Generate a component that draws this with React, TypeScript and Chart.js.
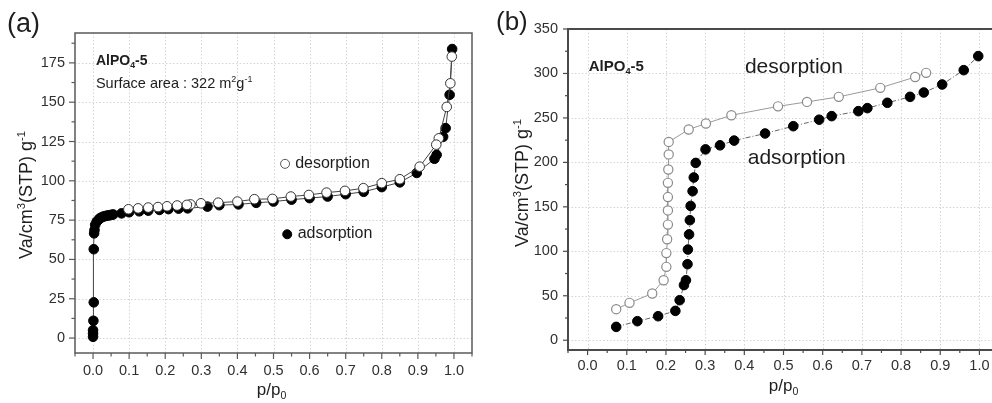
import React, { useEffect, useRef } from 'react';
import { Chart, registerables } from 'chart.js';

Chart.register(...registerables);

// ---------- Panel (a) data ----------
const A_ADS_P = [0.0, 0.0, 0.0, 0.001, 0.002, 0.002, 0.003, 0.004, 0.006, 0.01, 0.015, 0.019, 0.024, 0.029, 0.034, 0.038, 0.043, 0.047, 0.052, 0.056, 0.079, 0.1, 0.128, 0.153, 0.184, 0.209, 0.237, 0.262, 0.317, 0.35, 0.403, 0.452, 0.5, 0.55, 0.6, 0.65, 0.7, 0.75, 0.8, 0.85, 0.897, 0.946, 0.952, 0.97, 0.977, 0.988, 0.995];
const A_ADS_V = [0.8, 3, 5, 11, 22.7, 56.5, 66.6, 68.7, 72, 74, 75.2, 76.2, 76.8, 77.3, 77.6, 77.8, 78, 78.2, 78.4, 78.6, 79.3, 80, 80.6, 81, 81.5, 82, 82.3, 82.5, 83.6, 84.5, 85, 86, 86.8, 88, 89, 90, 91.5, 93, 96, 99, 105, 114, 116.5, 128, 133.5, 154.7, 183.8];
const A_DES_P = [0.994, 0.99, 0.98, 0.958, 0.951, 0.905, 0.85, 0.8, 0.749, 0.698, 0.647, 0.598, 0.548, 0.497, 0.447, 0.4, 0.347, 0.299, 0.27, 0.26, 0.233, 0.205, 0.18, 0.153, 0.125, 0.098];
const A_DES_V = [179, 162, 147, 127, 123, 109, 101, 98.5, 95.3, 93.6, 92.5, 91, 90, 88.5, 88.3, 86.8, 86.1, 85.7, 85, 84.7, 84.3, 83.8, 83.3, 83, 82.5, 81.9];
const A_X_TICKS = [0.0, 0.1, 0.2, 0.3, 0.4, 0.5, 0.6, 0.7, 0.8, 0.9, 1.0];
const A_Y_TICKS = [0, 25, 50, 75, 100, 125, 150, 175];

// ---------- Panel (b) data ----------
const B_ADS_P = [0.073, 0.127, 0.18, 0.224, 0.235, 0.246, 0.251, 0.255, 0.256, 0.259, 0.261, 0.263, 0.268, 0.271, 0.276, 0.301, 0.338, 0.374, 0.453, 0.525, 0.591, 0.623, 0.691, 0.714, 0.765, 0.823, 0.858, 0.905, 0.96, 0.997];
const B_ADS_V = [15, 21.4, 27, 33, 45, 62, 67.5, 85.5, 102, 119, 135, 151, 167.6, 183, 199.4, 214.6, 219.2, 224.5, 232.5, 240.7, 248, 252, 257.6, 261, 267, 273.7, 278.6, 287.6, 303.7, 319.5];
const B_DES_P = [0.864, 0.836, 0.747, 0.641, 0.56, 0.486, 0.367, 0.302, 0.258, 0.207, 0.207, 0.206, 0.205, 0.205, 0.205, 0.205, 0.203, 0.201, 0.201, 0.194, 0.165, 0.107, 0.073];
const B_DES_V = [300.7, 296, 283.8, 273.7, 268, 263, 253, 243.7, 237, 223, 209, 192, 177, 161, 146, 130, 113.6, 98, 82.5, 67.5, 52.5, 42, 34.9];
const B_X_TICKS = [0.0, 0.1, 0.2, 0.3, 0.4, 0.5, 0.6, 0.7, 0.8, 0.9, 1.0];
const B_Y_TICKS = [0, 50, 100, 150, 200, 250, 300, 350];

// ---------- Texts ----------
type Seg = { t: string; k?: 'sub' | 'sup' };
const SAMPLE_NAME: Seg[] = [{ t: 'AlPO' }, { t: '4', k: 'sub' }, { t: '-5' }];
const SURFACE_AREA: Seg[] = [{ t: 'Surface area : 322 m' }, { t: '2', k: 'sup' }, { t: 'g' }, { t: '-1', k: 'sup' }];
const Y_TITLE: Seg[] = [{ t: 'Va/cm' }, { t: '3', k: 'sup' }, { t: '(STP) g' }, { t: '-1', k: 'sup' }];
const X_TITLE: Seg[] = [{ t: 'p/p' }, { t: '0', k: 'sub' }];
const LABEL_DES = 'desorption';
const LABEL_ADS = 'adsorption';

const FAMILY = '"Liberation Sans", Arial, Helvetica, sans-serif';
const TEXT = '#1e1e1e';
const TICK_TEXT = '#303030';

const zip = (p: number[], v: number[]) => p.map((x, i) => ({ x, y: v[i] }));

function drawRich(ctx: CanvasRenderingContext2D, segs: Seg[], x: number, y: number, size: number, bold = false, align: 'left' | 'center' = 'left') {
  const fontFor = (k?: string) => `${bold ? 'bold ' : ''}${k ? size * 0.62 : size}px ${FAMILY}`;
  let total = 0;
  for (const s of segs) {
    ctx.font = fontFor(s.k);
    total += ctx.measureText(s.t).width;
  }
  let cx = align === 'center' ? x - total / 2 : x;
  ctx.textAlign = 'left';
  ctx.textBaseline = 'alphabetic';
  for (const s of segs) {
    ctx.font = fontFor(s.k);
    const dy = s.k === 'sub' ? size * 0.22 : s.k === 'sup' ? -size * 0.4 : 0;
    ctx.fillText(s.t, cx, y + dy);
    cx += ctx.measureText(s.t).width;
  }
}

interface Spec {
  padTop: number;
  padRight: number;
  yAxisW: number;
  xAxisH: number;
  xMin: number;
  xMax: number;
  yMin: number;
  yMax: number;
  xTicks: number[];
  yTicks: number[];
  xMinor: number;
  yMinor: number;
  xLabelPad: number;
  yLabelPad: number;
  tickSize: number;
  frameColor: string;
  frameWidth: number;
  majorLen: number;
  minorLen: number;
  datasets: any[];
  decorate: (chart: any, ctx: CanvasRenderingContext2D) => void;
}

function buildConfig(s: Spec): any {
  const decor = {
    id: 'decor',
    beforeDatasetsDraw(chart: any) {
      const { ctx, chartArea: ca } = chart;
      const xs = chart.scales.x;
      const ys = chart.scales.y;
      ctx.save();
      ctx.strokeStyle = '#d4d4d4';
      ctx.lineWidth = 1;
      ctx.setLineDash([1.5, 2]);
      for (const v of s.xTicks) {
        const px = Math.round(xs.getPixelForValue(v)) + 0.5;
        ctx.beginPath();
        ctx.moveTo(px, ca.top);
        ctx.lineTo(px, ca.bottom);
        ctx.stroke();
      }
      for (const v of s.yTicks) {
        const py = Math.round(ys.getPixelForValue(v)) + 0.5;
        ctx.beginPath();
        ctx.moveTo(ca.left, py);
        ctx.lineTo(ca.right, py);
        ctx.stroke();
      }
      ctx.restore();
    },
    afterDatasetsDraw(chart: any) {
      const { ctx, chartArea: ca } = chart;
      const xs = chart.scales.x;
      const ys = chart.scales.y;
      ctx.save();
      ctx.strokeStyle = s.frameColor;
      ctx.lineWidth = s.frameWidth;
      ctx.setLineDash([]);
      ctx.strokeRect(ca.left, ca.top, ca.right - ca.left, ca.bottom - ca.top);
      ctx.lineWidth = 1.2;
      const xStart = Math.ceil(s.xMin / s.xMinor - 1e-9);
      for (let i = xStart; i * s.xMinor <= s.xMax + 1e-9; i++) {
        const v = i * s.xMinor;
        const major = s.xTicks.some((t) => Math.abs(t - v) < 1e-6);
        const px = xs.getPixelForValue(v);
        ctx.beginPath();
        ctx.moveTo(px, ca.bottom);
        ctx.lineTo(px, ca.bottom + (major ? s.majorLen : s.minorLen));
        ctx.stroke();
      }
      const yStart = Math.ceil(s.yMin / s.yMinor - 1e-9);
      for (let i = yStart; i * s.yMinor <= s.yMax + 1e-9; i++) {
        const v = i * s.yMinor;
        const major = s.yTicks.some((t) => Math.abs(t - v) < 1e-6);
        const py = ys.getPixelForValue(v);
        ctx.beginPath();
        ctx.moveTo(ca.left, py);
        ctx.lineTo(ca.left - (major ? s.majorLen : s.minorLen), py);
        ctx.stroke();
      }
      ctx.fillStyle = TEXT;
      s.decorate(chart, ctx);
      ctx.restore();
    },
  };

  return {
    type: 'scatter',
    data: { datasets: s.datasets },
    options: {
      responsive: false,
      animation: false,
      devicePixelRatio: 1,
      layout: { padding: { top: s.padTop, right: s.padRight, left: 0, bottom: 0 } },
      plugins: { legend: { display: false }, tooltip: { enabled: false } },
      scales: {
        x: {
          type: 'linear',
          min: s.xMin,
          max: s.xMax,
          grid: { display: false, drawTicks: false },
          border: { display: false },
          ticks: {
            padding: s.xLabelPad,
            color: TICK_TEXT,
            autoSkip: false,
            maxRotation: 0,
            font: { family: FAMILY, size: s.tickSize },
            callback: (v: any) => Number(v).toFixed(1),
          },
          afterBuildTicks: (sc: any) => {
            sc.ticks = s.xTicks.map((value) => ({ value }));
          },
          afterFit: (sc: any) => {
            sc.height = s.xAxisH;
          },
        },
        y: {
          type: 'linear',
          min: s.yMin,
          max: s.yMax,
          grid: { display: false, drawTicks: false },
          border: { display: false },
          ticks: {
            padding: s.yLabelPad,
            color: TICK_TEXT,
            autoSkip: false,
            font: { family: FAMILY, size: s.tickSize },
            callback: (v: any) => String(Math.round(Number(v))),
          },
          afterBuildTicks: (sc: any) => {
            sc.ticks = s.yTicks.map((value) => ({ value }));
          },
          afterFit: (sc: any) => {
            sc.width = s.yAxisW;
          },
        },
      },
    },
    plugins: [decor],
  };
}

function legendDot(ctx: CanvasRenderingContext2D, x: number, y: number, r: number, filled: boolean) {
  ctx.beginPath();
  ctx.arc(x, y, r, 0, Math.PI * 2);
  ctx.fillStyle = filled ? '#000' : '#fff';
  ctx.fill();
  ctx.strokeStyle = filled ? '#000' : '#555';
  ctx.lineWidth = 1;
  ctx.stroke();
  ctx.fillStyle = TEXT;
}

const specA = (): Spec => ({
  padTop: 33,
  padRight: 18,
  yAxisW: 75,
  xAxisH: 50,
  xMin: -0.05,
  xMax: 1.05,
  yMin: -9.5,
  yMax: 194,
  xTicks: A_X_TICKS,
  yTicks: A_Y_TICKS,
  xMinor: 0.05,
  yMinor: 12.5,
  xLabelPad: 9,
  yLabelPad: 10,
  tickSize: 14.5,
  frameColor: '#5a5a5a',
  frameWidth: 1.5,
  majorLen: 6,
  minorLen: 3.5,
  datasets: [
    {
      label: LABEL_DES,
      data: zip(A_DES_P, A_DES_V),
      showLine: true,
      borderColor: '#444',
      borderWidth: 1,
      pointRadius: 4.8,
      pointBackgroundColor: '#fff',
      pointBorderColor: '#333',
      pointBorderWidth: 1,
      tension: 0,
    },
    {
      label: LABEL_ADS,
      data: zip(A_ADS_P, A_ADS_V),
      showLine: true,
      borderColor: '#444',
      borderWidth: 1,
      pointRadius: 4.8,
      pointBackgroundColor: '#000',
      pointBorderColor: '#000',
      pointBorderWidth: 1,
      tension: 0,
    },
  ],
  decorate: (chart, ctx) => {
    const xs = chart.scales.x;
    const ys = chart.scales.y;
    const ca = chart.chartArea;
    ctx.fillStyle = TEXT;
    ctx.font = `27px ${FAMILY}`;
    ctx.textAlign = 'left';
    ctx.textBaseline = 'alphabetic';
    ctx.fillText('(a)', 7, 32);
    drawRich(ctx, X_TITLE, (ca.left + ca.right) / 2 - 2, 395, 17, false, 'center');
    ctx.save();
    ctx.translate(32, 195);
    ctx.rotate(-Math.PI / 2);
    drawRich(ctx, Y_TITLE, 0, 0, 18, false, 'center');
    ctx.restore();
    drawRich(ctx, SAMPLE_NAME, xs.getPixelForValue(0.008), ys.getPixelForValue(173.8), 14, true);
    drawRich(ctx, SURFACE_AREA, xs.getPixelForValue(0.008), ys.getPixelForValue(159.1), 14.5);
    legendDot(ctx, xs.getPixelForValue(0.532), ys.getPixelForValue(110.8), 4.5, false);
    ctx.font = `16px ${FAMILY}`;
    ctx.fillText(LABEL_DES, xs.getPixelForValue(0.56), ys.getPixelForValue(108));
    legendDot(ctx, xs.getPixelForValue(0.538), ys.getPixelForValue(66), 4.5, true);
    ctx.font = `16px ${FAMILY}`;
    ctx.fillText(LABEL_ADS, xs.getPixelForValue(0.567), ys.getPixelForValue(63.7));
  },
});

const specB = (): Spec => ({
  padTop: 29,
  padRight: 11,
  yAxisW: 78,
  xAxisH: 53,
  xMin: -0.05,
  xMax: 1.05,
  yMin: -11,
  yMax: 350,
  xTicks: B_X_TICKS,
  yTicks: B_Y_TICKS,
  xMinor: 0.05,
  yMinor: 25,
  xLabelPad: 7,
  yLabelPad: 10,
  tickSize: 14.5,
  frameColor: '#4a4a4a',
  frameWidth: 2,
  majorLen: 5,
  minorLen: 3,
  datasets: [
    {
      label: LABEL_DES,
      data: zip(B_DES_P, B_DES_V),
      showLine: true,
      borderColor: '#9a9a9a',
      borderWidth: 1,
      pointRadius: 4.6,
      pointBackgroundColor: '#fff',
      pointBorderColor: '#8a8a8a',
      pointBorderWidth: 1.2,
      tension: 0,
    },
    {
      label: LABEL_ADS,
      data: zip(B_ADS_P, B_ADS_V),
      showLine: true,
      borderColor: '#666',
      borderWidth: 1,
      borderDash: [5, 2, 1, 2],
      pointRadius: 4.8,
      pointBackgroundColor: '#000',
      pointBorderColor: '#000',
      pointBorderWidth: 1,
      tension: 0,
    },
  ],
  decorate: (chart, ctx) => {
    const xs = chart.scales.x;
    const ys = chart.scales.y;
    ctx.fillStyle = TEXT;
    ctx.font = `26px ${FAMILY}`;
    ctx.textAlign = 'left';
    ctx.textBaseline = 'alphabetic';
    ctx.fillText('(b)', 6, 30);
    drawRich(ctx, X_TITLE, xs.getPixelForValue(0.5), 391, 17, false, 'center');
    ctx.save();
    ctx.translate(38, 183);
    ctx.rotate(-Math.PI / 2);
    drawRich(ctx, Y_TITLE, 0, 0, 18, false, 'center');
    ctx.restore();
    drawRich(ctx, SAMPLE_NAME, xs.getPixelForValue(0.003), ys.getPixelForValue(302.6), 15, true);
    ctx.font = `21px ${FAMILY}`;
    ctx.fillText(LABEL_DES, xs.getPixelForValue(0.4015), ys.getPixelForValue(300));
    ctx.fillText(LABEL_ADS, xs.getPixelForValue(0.4087), ys.getPixelForValue(198));
  },
});

function Panel({ spec, left, width, height }: { spec: () => Spec; left: number; width: number; height: number }) {
  const ref = useRef<HTMLCanvasElement>(null);
  useEffect(() => {
    const chart = new Chart(ref.current as HTMLCanvasElement, buildConfig(spec()));
    return () => chart.destroy();
  }, []);
  return (
    <canvas
      ref={ref}
      width={width}
      height={height}
      style={{ position: 'absolute', left, top: 0, width, height, display: 'block' }}
    />
  );
}

export default function App() {
  return (
    <div
      style={{
        position: 'fixed',
        left: 0,
        top: 0,
        width: 992,
        height: 403,
        overflow: 'hidden',
        background: '#fff',
      }}
    >
      <Panel spec={specA} left={0} width={490} height={403} />
      <Panel spec={specB} left={490} width={520} height={403} />
    </div>
  );
}
